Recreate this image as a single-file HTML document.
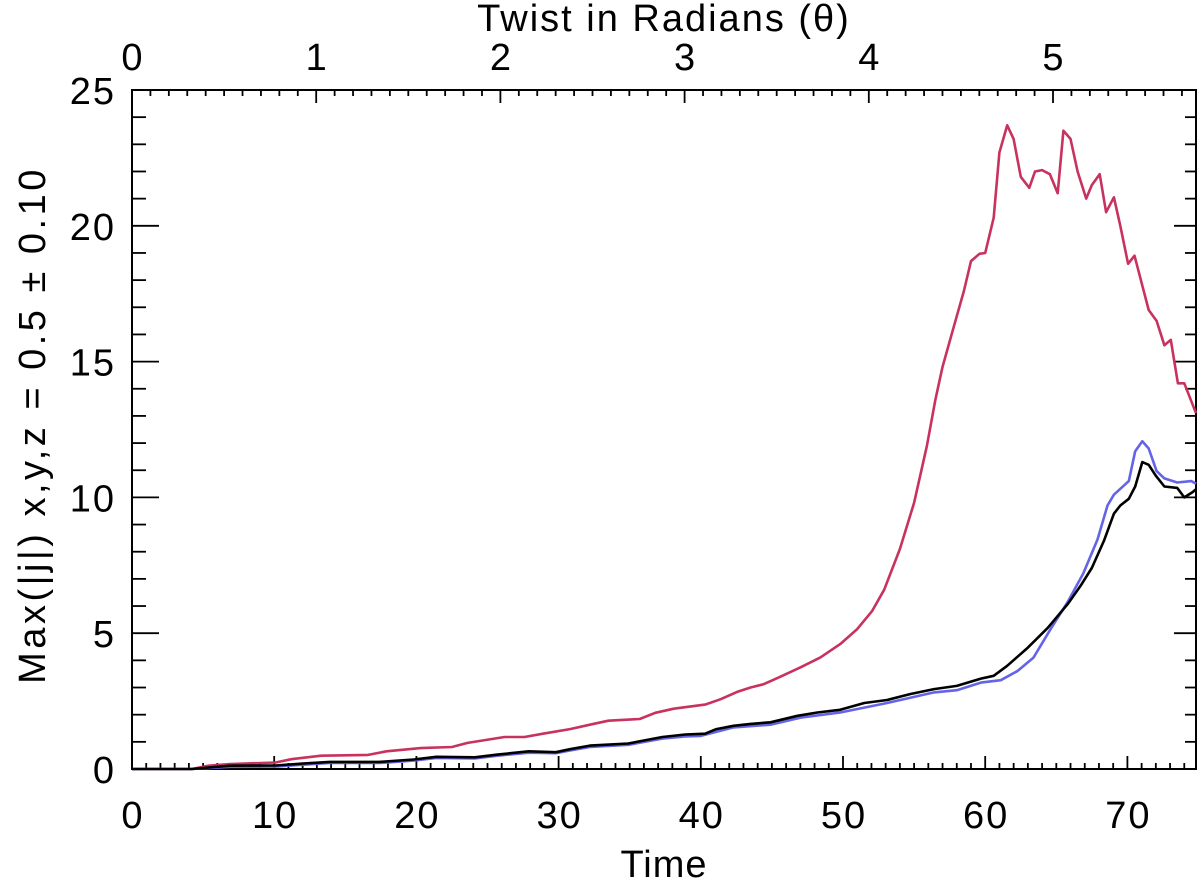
<!DOCTYPE html>
<html><head><meta charset="utf-8"><title>Max |j| vs Time</title>
<style>
html,body{margin:0;padding:0;background:#fff;}
svg{display:block;font-family:"Liberation Sans","DejaVu Sans",sans-serif;}
</style></head>
<body>
<svg id="chart" width="1200" height="880" viewBox="0 0 1200 880" xmlns="http://www.w3.org/2000/svg">
<g id="axes"></g>
<g id="series"></g>
<text x="664" y="877" font-size="38" text-anchor="middle" letter-spacing="1">Time</text>
<text x="664" y="31" font-size="38" text-anchor="middle" letter-spacing="2">Twist in Radians (θ)</text>
<text x="0" y="0" font-size="38" text-anchor="middle" letter-spacing="3.5" transform="translate(45,425) rotate(-90)">Max(|j|) x,y,z = 0.5 ± 0.10</text>
</svg>
<script>
const redT=[0,4.2,5.4,6.9,10.1,11.2,13.3,16.6,17.9,20.3,22.5,23.6,26.2,27.6,28.9,30.8,32.2,33.5,35.7,36.8,38.1,40.3,41.4,42.55,43.5,44.4,45.6,47.0,48.4,49.8,51.0,52.05,52.9,54.0,55.0,55.9,56.5,57.0,57.8,58.5,59.0,59.6,60.0,60.6,61.0,61.55,62.0,62.5,63.1,63.5,64.0,64.55,65.1,65.5,66.0,66.5,67.1,67.5,68.05,68.5,69.05,69.5,70.05,70.5,71.5,72.05,72.6,73.05,73.55,74.0,75.0];
const redV=[0,0,0.12,0.18,0.24,0.36,0.49,0.52,0.65,0.77,0.81,0.96,1.18,1.18,1.3,1.47,1.63,1.78,1.84,2.07,2.22,2.37,2.57,2.84,3.0,3.12,3.4,3.74,4.1,4.6,5.15,5.82,6.6,8.1,9.8,11.9,13.6,14.8,16.3,17.6,18.7,18.97,19.0,20.3,22.7,23.7,23.2,21.8,21.4,22.0,22.05,21.9,21.2,23.5,23.2,22.0,21.0,21.5,21.9,20.5,21.05,20.0,18.6,18.9,16.9,16.5,15.6,15.8,14.2,14.2,13.1];
const blueT=[0,4.2,6.9,10.1,12.0,13.9,17.4,19.8,21.4,24.1,25.7,27.9,29.8,30.8,32.2,34.9,37.3,38.9,40.0,42.3,44.9,47.1,49.8,53.1,56.4,58.0,59.7,61.1,62.25,63.4,64.6,65.8,66.9,67.9,68.6,69.05,70.1,70.55,71.05,71.5,72.05,72.6,73.5,74.5,75.0];
const blueV=[0,0,0.08,0.09,0.16,0.22,0.22,0.31,0.41,0.39,0.49,0.6,0.58,0.68,0.81,0.89,1.12,1.2,1.22,1.53,1.63,1.9,2.08,2.43,2.82,2.9,3.18,3.27,3.6,4.1,5.15,6.15,7.2,8.45,9.7,10.1,10.6,11.7,12.07,11.8,10.97,10.7,10.55,10.6,10.5];
const blackT=[0,4.2,6.9,10.1,12.0,13.9,17.4,19.8,21.4,24.1,25.7,27.9,29.8,30.8,32.2,34.9,37.3,38.9,40.3,41.1,42.3,43.5,44.9,46.8,48.2,49.8,51.5,53.1,54.75,56.4,58.0,59.7,60.6,61.55,63.0,64.4,65.8,66.7,67.5,68.35,69.05,69.5,70.1,70.55,71.05,71.5,72.0,72.6,73.5,74.0,74.6,75.0];
const blackV=[0,0,0.12,0.13,0.2,0.26,0.26,0.35,0.45,0.43,0.53,0.65,0.62,0.73,0.86,0.94,1.18,1.27,1.3,1.47,1.59,1.66,1.72,1.96,2.08,2.18,2.43,2.54,2.76,2.94,3.06,3.33,3.43,3.8,4.47,5.2,6.07,6.74,7.4,8.4,9.4,9.7,9.95,10.4,11.3,11.2,10.8,10.4,10.35,10.0,10.2,10.3];
const xTickLabels=["0","10","20","30","40","50","60","70"];
const yTickLabels=["0","5","10","15","20","25"];
const topTickLabels=["0","1","2","3","4","5"];

const NS="http://www.w3.org/2000/svg";
const L=132,R=1196,T=90,B=769;
const TMAX=(R-L)/14.22;
const RADPX=184.2;
function xs(t){return L+t*14.22;}
function ys(v){return B-v*(B-T)/25;}
function xr(r){return L+r*RADPX;}
const axes=document.getElementById('axes');
function line(x1,y1,x2,y2,name){
  const l=document.createElementNS(NS,'line');
  l.setAttribute('x1',x1);l.setAttribute('y1',y1);l.setAttribute('x2',x2);l.setAttribute('y2',y2);
  l.setAttribute('stroke','#000');l.setAttribute('stroke-width','1.8');
  
  
  axes.appendChild(l);
}
function text(x,y,s,anchor,name){
  const t=document.createElementNS(NS,'text');
  t.setAttribute('x',x);t.setAttribute('y',y);t.setAttribute('font-size','38');
  t.setAttribute('text-anchor',anchor);t.setAttribute('letter-spacing','2');t.textContent=s;
  
  
  axes.appendChild(t);
}
const fr=document.createElementNS(NS,'rect');
fr.setAttribute('x',L);fr.setAttribute('y',T);fr.setAttribute('width',R-L);fr.setAttribute('height',B-T);
fr.setAttribute('fill','none');fr.setAttribute('stroke','#000');fr.setAttribute('stroke-width','2');


axes.appendChild(fr);
for(let t=0;t<=TMAX+0.001;t++){
  const major=t%10===0, len=major?13:6, x=xs(t);
  line(x,B,x,B-len,'x-tick');
}
xTickLabels.forEach(s=>{text(xs(+s)+1,828,s,'middle','x-tick-label');});
for(let i=0;i*0.1*RADPX<=R-L+0.5;i++){
  const x=xr(i*0.1), len=(i%10===0)?13:6;
  line(x,T,x,T+len,'top-tick');
}
topTickLabels.forEach(s=>{text(xr(+s)+1,70,s,'middle','top-tick-label');});
for(let v=0;v<=25;v++){
  const major=v%5===0,y=ys(v);
  line(L,y,L+(major?27:14),y,'y-tick');
  line(R,y,R-(major?22:11),y,'y-tick-right');
}
yTickLabels.forEach(s=>{text(116,ys(+s)+14,s,'end','y-tick-label');});
const sg=document.getElementById('series');
function series(ts,vs,color,name){
  let d='';
  for(let i=0;i<ts.length;i++){
    const t=Math.min(ts[i],TMAX);
    d+=(i?'L':'M')+xs(t).toFixed(1)+','+ys(vs[i]).toFixed(1);
  }
  const p=document.createElementNS(NS,'path');
  p.setAttribute('d',d);p.setAttribute('fill','none');p.setAttribute('stroke',color);
  p.setAttribute('stroke-width','2.6');p.setAttribute('stroke-linejoin','round');
  
  
  sg.appendChild(p);
}
series(redT,redV,'#c8325f','series-red-line');
series(blueT,blueV,'#6464e6','series-blue-line');
series(blackT,blackV,'#000000','series-black-line');
</script>
</body></html>
